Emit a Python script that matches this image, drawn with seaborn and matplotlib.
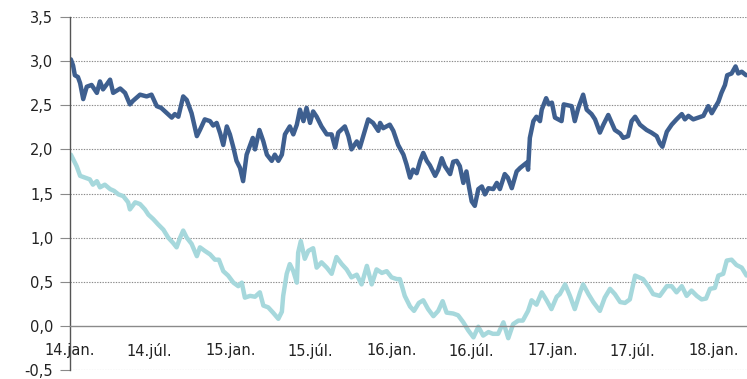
import matplotlib
matplotlib.use("Agg")
import matplotlib.pyplot as plt
import seaborn as sns
import pandas as pd

# ---- data ----
dark_dates = [
    "2014-01-03","2014-01-08","2014-01-12","2014-01-19","2014-01-24","2014-01-31","2014-02-08","2014-02-19",
    "2014-03-03","2014-03-10","2014-03-17","2014-03-26","2014-04-02","2014-04-09","2014-04-25","2014-05-06",
    "2014-05-17","2014-05-24","2014-06-09","2014-06-24","2014-07-05","2014-07-17","2014-07-27","2014-08-09",
    "2014-08-20","2014-08-27","2014-09-04","2014-09-15","2014-09-23","2014-10-04","2014-10-16","2014-10-23",
    "2014-11-03","2014-11-15","2014-11-22","2014-11-30","2014-12-08","2014-12-15","2014-12-23","2014-12-30",
    "2015-01-07","2015-01-14","2015-01-22","2015-01-29","2015-02-06","2015-02-14","2015-02-20","2015-02-25",
    "2015-03-07","2015-03-16","2015-03-24","2015-04-04","2015-04-11","2015-04-19","2015-04-27","2015-05-04",
    "2015-05-15","2015-05-23","2015-05-31","2015-06-07","2015-06-15","2015-06-22","2015-06-30","2015-07-07",
    "2015-07-15","2015-07-26","2015-08-07","2015-08-18","2015-08-26","2015-09-02","2015-09-17","2015-09-25",
    "2015-10-02","2015-10-14","2015-10-21","2015-11-02","2015-11-09","2015-11-20","2015-12-02","2015-12-06",
    "2015-12-13","2015-12-28","2016-01-05","2016-01-16","2016-01-28","2016-02-04","2016-02-12","2016-02-19",
    "2016-02-27","2016-03-06","2016-03-13","2016-03-21","2016-03-28","2016-04-09","2016-04-16","2016-04-24",
    "2016-05-01","2016-05-13","2016-05-20","2016-05-28","2016-06-04","2016-06-12","2016-06-19","2016-06-25",
    "2016-07-01","2016-07-08","2016-07-16","2016-07-24","2016-07-31","2016-08-08","2016-08-19","2016-08-27",
    "2016-09-03","2016-09-14","2016-09-21","2016-09-30","2016-10-11","2016-10-19","2016-11-03","2016-11-06",
    "2016-11-10","2016-11-18","2016-11-25","2016-12-03","2016-12-07","2016-12-17","2016-12-23","2016-12-30",
    "2017-01-06","2017-01-21","2017-01-26","2017-02-13","2017-02-20","2017-02-28","2017-03-11","2017-03-19",
    "2017-03-30","2017-04-07","2017-04-18","2017-04-26","2017-05-07","2017-05-22","2017-06-03","2017-06-10",
    "2017-06-21","2017-06-29","2017-07-07","2017-07-18","2017-08-02","2017-08-13","2017-08-25","2017-09-01",
    "2017-09-07","2017-09-17","2017-09-28","2017-10-09","2017-10-21","2017-10-28","2017-11-05","2017-11-16",
    "2017-12-09","2017-12-20","2017-12-28","2018-01-12","2018-01-19","2018-01-27","2018-02-01","2018-02-11",
    "2018-02-20","2018-02-26","2018-03-06","2018-03-16",
]
dark_values = [
    3.02, 2.95, 2.84, 2.82, 2.75, 2.57, 2.71, 2.73,
    2.64, 2.77, 2.68, 2.74, 2.79, 2.64, 2.69, 2.64,
    2.51, 2.55, 2.62, 2.60, 2.62, 2.49, 2.47, 2.41,
    2.36, 2.40, 2.37, 2.60, 2.56, 2.41, 2.15, 2.22,
    2.34, 2.32, 2.27, 2.30, 2.18, 2.05, 2.26, 2.17,
    2.02, 1.87, 1.79, 1.64, 1.94, 2.05, 2.13, 2.00,
    2.22, 2.09, 1.94, 1.87, 1.94, 1.87, 1.94, 2.17,
    2.26, 2.17, 2.28, 2.45, 2.32, 2.47, 2.30, 2.43,
    2.37, 2.26, 2.17, 2.17, 2.02, 2.19, 2.26, 2.15,
    2.00, 2.09, 2.02, 2.22, 2.34, 2.30, 2.21, 2.30,
    2.24, 2.28, 2.21, 2.05, 1.94, 1.83, 1.68, 1.77,
    1.73, 1.87, 1.96, 1.87, 1.82, 1.70, 1.77, 1.90,
    1.81, 1.72, 1.86, 1.87, 1.81, 1.62, 1.75, 1.57,
    1.41, 1.36, 1.55, 1.58, 1.49, 1.56, 1.55, 1.62,
    1.55, 1.72, 1.68, 1.56, 1.75, 1.79, 1.85, 1.77,
    2.13, 2.32, 2.37, 2.32, 2.45, 2.58, 2.51, 2.53,
    2.36, 2.32, 2.51, 2.49, 2.32, 2.47, 2.62, 2.45,
    2.40, 2.34, 2.19, 2.28, 2.39, 2.22, 2.18, 2.13,
    2.15, 2.32, 2.37, 2.28, 2.22, 2.19, 2.15, 2.07,
    2.03, 2.20, 2.28, 2.34, 2.40, 2.34, 2.38, 2.34,
    2.38, 2.49, 2.41, 2.54, 2.64, 2.73, 2.84, 2.86,
    2.94, 2.86, 2.88, 2.84,
]

light_dates = [
    "2014-01-03","2014-01-10","2014-01-16","2014-01-24","2014-02-04","2014-02-15","2014-02-22","2014-03-03",
    "2014-03-10","2014-03-21","2014-04-02","2014-04-11","2014-04-21","2014-05-02","2014-05-13","2014-05-17",
    "2014-05-29","2014-06-09","2014-06-20","2014-06-28","2014-07-09","2014-07-20","2014-08-01","2014-08-12",
    "2014-08-23","2014-08-31","2014-09-08","2014-09-15","2014-09-23","2014-10-04","2014-10-16","2014-10-23",
    "2014-11-03","2014-11-15","2014-11-26","2014-12-05","2014-12-15","2014-12-26","2015-01-07","2015-01-18",
    "2015-01-26","2015-02-02","2015-02-14","2015-02-25","2015-03-08","2015-03-16","2015-03-27","2015-04-07",
    "2015-04-19","2015-04-27","2015-04-30","2015-05-08","2015-05-15","2015-05-23","2015-05-31","2015-06-03",
    "2015-06-09","2015-06-18","2015-06-26","2015-07-07","2015-07-15","2015-07-26","2015-08-07","2015-08-18",
    "2015-08-29","2015-09-10","2015-09-21","2015-10-02","2015-10-14","2015-10-25","2015-11-06","2015-11-17",
    "2015-11-28","2015-12-10","2015-12-21","2016-01-01","2016-01-13","2016-01-20","2016-01-31","2016-02-12",
    "2016-02-21","2016-03-03","2016-03-13","2016-03-24","2016-04-05","2016-04-16","2016-04-26","2016-05-05",
    "2016-05-20","2016-05-31","2016-06-12","2016-06-23","2016-07-05","2016-07-16","2016-07-27","2016-08-08",
    "2016-08-18","2016-08-30","2016-09-11","2016-09-22","2016-10-03","2016-10-15","2016-10-25","2016-11-06",
    "2016-11-14","2016-11-25","2016-12-07","2016-12-18","2016-12-29","2017-01-10","2017-01-17","2017-01-29",
    "2017-02-09","2017-02-20","2017-03-04","2017-03-11","2017-03-23","2017-04-03","2017-04-18","2017-04-29",
    "2017-05-11","2017-05-22","2017-06-03","2017-06-14","2017-06-25","2017-07-07","2017-07-16","2017-07-25",
    "2017-08-06","2017-08-17","2017-09-01","2017-09-17","2017-09-28","2017-10-09","2017-10-21","2017-11-01",
    "2017-11-12","2017-11-24","2017-12-05","2017-12-15","2017-12-24","2018-01-04","2018-01-12","2018-01-23",
    "2018-01-31","2018-02-11","2018-02-22","2018-03-06","2018-03-17",
]
light_values = [
    1.94, 1.87, 1.81, 1.70, 1.68, 1.66, 1.60, 1.64,
    1.57, 1.60, 1.55, 1.53, 1.49, 1.47, 1.40, 1.32,
    1.40, 1.38, 1.32, 1.26, 1.21, 1.15, 1.09, 1.00,
    0.94, 0.89, 1.00, 1.08, 1.00, 0.93, 0.79, 0.89,
    0.85, 0.81, 0.75, 0.75, 0.62, 0.57, 0.49, 0.45,
    0.49, 0.32, 0.34, 0.33, 0.38, 0.23, 0.21, 0.15,
    0.08, 0.16, 0.34, 0.59, 0.70, 0.62, 0.49, 0.83,
    0.96, 0.76, 0.85, 0.88, 0.66, 0.72, 0.66, 0.59,
    0.78, 0.70, 0.64, 0.55, 0.58, 0.47, 0.68, 0.47,
    0.64, 0.60, 0.62, 0.55, 0.53, 0.53, 0.34, 0.22,
    0.17, 0.26, 0.29, 0.19, 0.11, 0.17, 0.28, 0.15,
    0.14, 0.12, 0.04, -0.05, -0.13, -0.01, -0.11, -0.07,
    -0.09, -0.09, 0.04, -0.14, 0.02, 0.06, 0.06, 0.17,
    0.29, 0.24, 0.38, 0.29, 0.19, 0.33, 0.36, 0.47,
    0.34, 0.19, 0.38, 0.47, 0.36, 0.27, 0.17, 0.32,
    0.42, 0.36, 0.27, 0.26, 0.30, 0.57, 0.55, 0.53,
    0.45, 0.36, 0.34, 0.45, 0.45, 0.38, 0.45, 0.34,
    0.40, 0.34, 0.30, 0.31, 0.42, 0.43, 0.57, 0.59,
    0.74, 0.75, 0.69, 0.66, 0.57,
]

tick_dates = ["2014-01-01", "2014-07-01", "2015-01-01", "2015-07-01", "2016-01-01",
              "2016-07-01", "2017-01-01", "2017-07-01", "2018-01-01"]
tick_labels = ["14.jan.", "14.júl.", "15.jan.", "15.júl.", "16.jan.",
               "16.júl.", "17.jan.", "17.júl.", "18.jan."]
y_ticks = [-0.5, 0.0, 0.5, 1.0, 1.5, 2.0, 2.5, 3.0, 3.5]

DARK = "#3e5f8f"
LIGHT = "#a6d8dc"

sns.set_theme(style="white")
plt.rcParams["font.family"] = ["DejaVu Sans"]

df_dark = pd.DataFrame({"date": pd.to_datetime(dark_dates), "value": dark_values})
df_light = pd.DataFrame({"date": pd.to_datetime(light_dates), "value": light_values})

fig = plt.figure(figsize=(7.47, 3.79), dpi=100)
ax = fig.add_axes([70 / 747, 1 - 370 / 379, 1 - 70 / 747, (370 - 17) / 379])

sns.lineplot(data=df_light, x="date", y="value", color=LIGHT, lw=3.2, ax=ax)
sns.lineplot(data=df_dark, x="date", y="value", color=DARK, lw=3.2, ax=ax)

ax.set_ylim(-0.5, 3.5)
ax.set_xlim(pd.Timestamp("2014-01-01"), pd.Timestamp("2018-03-18"))
ax.set_xlabel("")
ax.set_ylabel("")

ax.set_yticks(y_ticks)
ax.set_yticklabels([f"{v:.1f}".replace(".", ",") for v in y_ticks], fontsize=10.5, color="#222222")
for v in y_ticks:
    if v != 0:
        ax.axhline(v, color="#8a8a8a", lw=0.8, ls=(0, (1.2, 1.2)), zorder=0)
ax.grid(False)

for s in ["top", "right"]:
    ax.spines[s].set_visible(False)
ax.spines["left"].set_color("#555555")
ax.spines["left"].set_linewidth(1.0)
ax.spines["bottom"].set_position(("data", 0))
ax.spines["bottom"].set_color("#8a8a8a")
ax.spines["bottom"].set_linewidth(1.0)

ax.set_xticks(pd.to_datetime(tick_dates))
ax.set_xticklabels(tick_labels, fontsize=10.5, color="#222222")
ax.tick_params(axis="x", direction="inout", length=10, width=1.0, color="#555555", pad=7)
ax.tick_params(axis="y", direction="out", length=7, width=0.8, color="#8a8a8a", pad=5, left=True)
for lbl in ax.get_yticklabels():
    lbl.set_verticalalignment("center_baseline")

fig.savefig("out.png", dpi=100)
